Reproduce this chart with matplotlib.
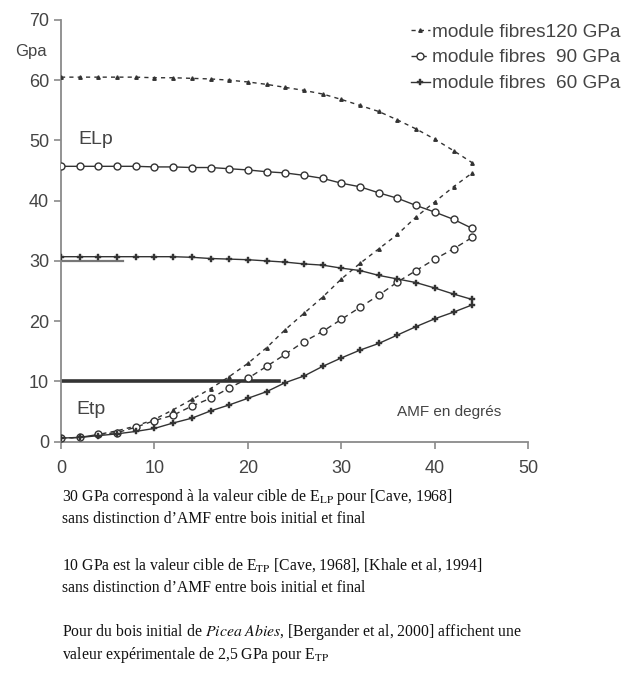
import numpy as np
import matplotlib
matplotlib.use("Agg")
import matplotlib.pyplot as plt
from matplotlib.lines import Line2D

plt.rcParams["font.family"] = ["Liberation Sans", "DejaVu Sans"]
plt.rcParams["mathtext.fontset"] = "stix"

# AMF angle (degrees)
amf = np.arange(0, 46, 2)

# longitudinal modulus ELp (GPa) for each fibre modulus
elp_120 = [60.5, 60.5, 60.5, 60.5, 60.5, 60.4, 60.4, 60.3, 60.2, 60.0, 59.7, 59.3,
           58.8, 58.3, 57.7, 56.8, 55.8, 54.8, 53.4, 51.9, 50.2, 48.3, 46.3]
elp_90 = [45.7, 45.7, 45.7, 45.7, 45.7, 45.6, 45.6, 45.5, 45.5, 45.3, 45.1, 44.8,
          44.6, 44.2, 43.7, 42.9, 42.3, 41.3, 40.4, 39.2, 38.1, 36.9, 35.4]
elp_60 = [30.7, 30.7, 30.7, 30.7, 30.7, 30.7, 30.7, 30.6, 30.4, 30.3, 30.2, 30.0,
          29.8, 29.5, 29.3, 28.8, 28.4, 27.6, 27.0, 26.4, 25.5, 24.5, 23.6]

# transverse modulus Etp (GPa)
etp_120 = [0.6, 0.7, 1.2, 1.8, 2.6, 3.7, 5.3, 7.0, 8.8, 10.8, 13.0, 15.6,
           18.6, 21.3, 24.0, 27.0, 29.6, 32.0, 34.4, 37.3, 39.8, 42.3, 44.6]
etp_90 = [0.6, 0.7, 1.2, 1.5, 2.4, 3.5, 4.4, 5.9, 7.2, 8.9, 10.5, 12.5,
          14.5, 16.6, 18.3, 20.3, 22.3, 24.3, 26.5, 28.4, 30.3, 32.0, 33.9]
etp_60 = [0.6, 0.7, 1.0, 1.3, 1.7, 2.2, 3.1, 3.9, 5.1, 6.1, 7.2, 8.3,
          9.8, 10.9, 12.5, 13.9, 15.2, 16.3, 17.7, 19.1, 20.4, 21.5, 22.7]

labels = ["module fibres120 GPa", "module fibres  90 GPa", "module fibres  60 GPa"]

# target values from the literature
cible_elp = 30
cible_etp = 10

dark = "#333333"
axis_col = "#8a8a8a"

fig = plt.figure(figsize=(6.38, 6.77), dpi=100)
ax = fig.add_axes([0.0956, 0.3476, 0.7324, 0.623])

# reference lines (under the curves)
ax.plot([0, 6.6], [cible_elp, cible_elp], color="#777777", lw=1.6, zorder=1)
ax.plot([0, 23.3], [cible_etp, cible_etp], color=dark, lw=2.6, zorder=1)

st120 = dict(color=dark, lw=1.0, ls=(0, (3, 3)), marker="^", ms=2.5, mfc=dark, mec=dark)
st90 = dict(color=dark, lw=1.0, marker="o", ms=5, mfc="white", mec=dark, mew=1.0)
st60 = dict(color=dark, lw=1.0, marker="P", ms=4, mfc=dark, mec=dark, mew=0.3)

ax.plot(amf, elp_120, zorder=3, **st120)
ax.plot(amf, etp_120, zorder=3, **st120)
ax.plot(amf, elp_90, ls="-", zorder=3, **st90)
ax.plot(amf, etp_90, ls=(0, (4, 3)), zorder=3, **st90)
ax.plot(amf, elp_60, ls="-", zorder=3, **st60)
ax.plot(amf, etp_60, ls="-", zorder=3, **st60)

ax.set_xlim(0, 50)
ax.set_ylim(0, 70)
ax.set_xticks(range(0, 51, 10))
ax.set_yticks(range(0, 71, 10))
for s in ["top", "right"]:
    ax.spines[s].set_visible(False)
for s in ["left", "bottom"]:
    ax.spines[s].set_color(axis_col)
    ax.spines[s].set_linewidth(1.3)
ax.spines["left"].set_bounds(0, 70)
ax.tick_params(colors=axis_col, labelcolor="#444444", labelsize=13, length=5, width=1.2)
ax.tick_params(axis="x", pad=8)

ax.text(-4.9, 64.7, "Gpa", fontsize=12, color="#444444", va="center", ha="left")
ax.text(1.9, 50.1, "ELp", fontsize=14, color="#444444", va="center", ha="left")
ax.text(1.6, 5.3, "Etp", fontsize=14, color="#444444", va="center", ha="left")
ax.text(36.0, 5.0, "AMF en degrés", fontsize=11, color="#444444", va="center", ha="left")

handles = [Line2D([], [], **st120),
           Line2D([], [], ls=(0, (4, 3)), **st90),
           Line2D([], [], ls="-", **st60)]
leg = fig.legend(handles, labels, loc="upper left", bbox_to_anchor=(0.632, 0.977),
                 frameon=False, fontsize=13.7, handlelength=1.0, handletextpad=0.1,
                 labelspacing=0.45, borderaxespad=0)
for t in leg.get_texts():
    t.set_color("#444444")

notes = [
    (0.097, 0.266, r"30 GPa correspond à la valeur cible de E$_{\mathrm{LP}}$ pour [Cave, 1968]"),
    (0.097, 0.233, "sans distinction d\u2019AMF entre bois initial et final"),
    (0.097, 0.165, r"10 GPa est la valeur cible de E$_{\mathrm{TP}}$ [Cave, 1968], [Khale et al, 1994]"),
    (0.097, 0.132, "sans distinction d\u2019AMF entre bois initial et final"),
    (0.097, 0.066, r"Pour du bois initial de $\mathit{Picea\ Abies}$, [Bergander et al, 2000] affichent une"),
    (0.097, 0.032, r"valeur expérimentale de 2,5 GPa pour E$_{\mathrm{TP}}$"),
]
for x, y, s in notes:
    fig.text(x, y, s, fontsize=11.3, family=["Liberation Serif", "DejaVu Serif"],
             color="#111111", va="center", ha="left")

fig.savefig("out.png", dpi=100)
